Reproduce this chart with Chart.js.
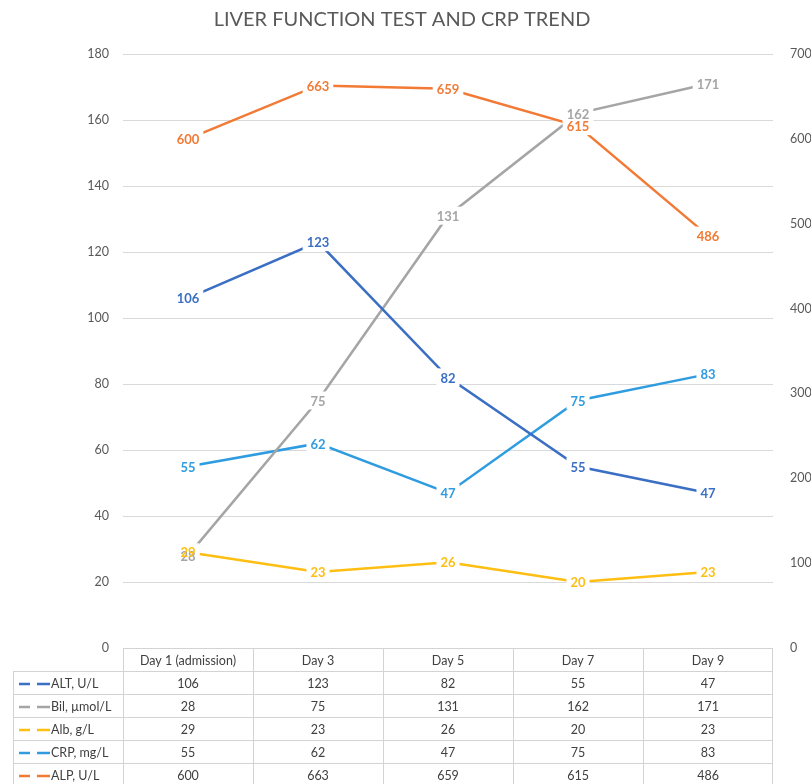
<!DOCTYPE html>
<html>
<head>
<meta charset="utf-8">
<script src="https://cdn.jsdelivr.net/npm/chart.js@4"></script>
<style>
  html, body { margin: 0; padding: 0; background: #fff; }
  #wrap { width: 811px; height: 784px; }
</style>
</head>
<body>
<div id="wrap"><canvas id="trend" width="811" height="784"></canvas></div>
<script>
// Categories (table header)
const days = ["Day 1 (admission)", "Day 3", "Day 5", "Day 7", "Day 9"];

// Series values
const altValues = [106, 123, 82, 55, 47];
const bilValues = [28, 75, 131, 162, 171];
const albValues = [29, 23, 26, 20, 23];
const crpValues = [55, 62, 47, 75, 83];
const alpValues = [600, 663, 659, 615, 486];

// Series names as shown in the data table
const seriesNames = ["ALT, U/L", "Bil, \u00b5mol/L", "Alb, g/L", "CRP, mg/L", "ALP, U/L"];

// Axis ranges
const leftAxis = { min: 0, max: 180, step: 20 };
const rightAxis = { min: 0, max: 700, step: 100 };

const FONT = "Lato, 'Open Sans', sans-serif";
const textGray = "#595959";
const gridGray = "#d9d9d9";

const seriesColors = ["#3b6fc3", "#a5a5a5", "#ffbe12", "#2f9ce0", "#f27a35"];

function makeSeries(label, values, color, axis) {
  return {
    label: label,
    data: values,
    borderColor: color,
    backgroundColor: color,
    borderWidth: 2.5,
    pointRadius: 0,
    tension: 0,
    yAxisID: axis,
  };
}

// Data labels: white boxes first, then text so overlapping labels both show
const dataLabels = {
  id: "dataLabels",
  afterDatasetsDraw(chart) {
    const { ctx } = chart;
    ctx.save();
    ctx.font = "bold 13px " + FONT;
    ctx.textAlign = "center";
    ctx.textBaseline = "middle";
    const items = [];
    chart.data.datasets.forEach((ds, i) => {
      chart.getDatasetMeta(i).data.forEach((pt, j) => {
        items.push({ x: pt.x, y: pt.y, text: String(ds.data[j]), color: ds.borderColor });
      });
    });
    ctx.fillStyle = "#ffffff";
    items.forEach((it) => {
      const w = ctx.measureText(it.text).width + 8;
      ctx.fillRect(it.x - w / 2, it.y - 9, w, 18);
    });
    items.forEach((it) => {
      ctx.fillStyle = it.color;
      ctx.fillText(it.text, it.x, it.y + 1);
    });
    ctx.restore();
  },
};

// Title and the data table under the plot
const titleAndTable = {
  id: "titleAndTable",
  afterDraw(chart) {
    const { ctx, chartArea, scales } = chart;
    const x = scales.x;
    ctx.save();
    // title
    ctx.font = "20px " + FONT;
    ctx.fillStyle = textGray;
    ctx.textAlign = "center";
    ctx.textBaseline = "middle";
    ctx.fillText("LIVER FUNCTION TEST AND CRP TREND", 402, 20);

    // table geometry
    const half = (x.getPixelForValue(1) - x.getPixelForValue(0)) / 2;
    const top = chartArea.bottom;
    const headH = 23;
    const rowH = 23;
    const legLeft = 13;
    const colLeft = chartArea.left;
    const colRight = chartArea.right;
    const bottom = top + headH + rowH * seriesNames.length;

    ctx.strokeStyle = "#d3d3d3";
    ctx.lineWidth = 1;
    ctx.beginPath();
    ctx.moveTo(colLeft, top + 0.5);
    ctx.lineTo(colRight, top + 0.5);
    for (let r = 0; r <= seriesNames.length; r++) {
      const yy = Math.round(top + headH + r * rowH) + 0.5;
      ctx.moveTo(legLeft, yy);
      ctx.lineTo(colRight, yy);
    }
    ctx.moveTo(legLeft + 0.5, top + headH);
    ctx.lineTo(legLeft + 0.5, bottom);
    days.forEach((d, i) => {
      const xx = Math.round(x.getPixelForValue(i) - half) + 0.5;
      ctx.moveTo(xx, top);
      ctx.lineTo(xx, bottom);
    });
    ctx.moveTo(colRight - 0.5, top);
    ctx.lineTo(colRight - 0.5, bottom);
    ctx.stroke();

    ctx.font = "12.5px " + FONT;
    ctx.fillStyle = "#404040";
    ctx.textAlign = "center";
    days.forEach((d, i) => {
      ctx.fillText(d, x.getPixelForValue(i), top + headH / 2 + 1);
    });
    chart.data.datasets.forEach((ds, r) => {
      const yy = top + headH + r * rowH + rowH / 2 + 1.5;
      ds.data.forEach((v, i) => {
        ctx.fillStyle = "#404040";
        ctx.textAlign = "center";
        ctx.fillText(String(v), x.getPixelForValue(i), yy);
      });
      // legend key: two short dashes
      ctx.strokeStyle = ds.borderColor;
      ctx.lineWidth = 2.5;
      ctx.beginPath();
      ctx.moveTo(19, yy);
      ctx.lineTo(30, yy);
      ctx.moveTo(37, yy);
      ctx.lineTo(50, yy);
      ctx.stroke();
      ctx.fillStyle = "#404040";
      ctx.textAlign = "left";
      ctx.fillText(seriesNames[r], 51, yy);
    });
    ctx.restore();
  },
};

const config = {
  type: "line",
  data: {
    labels: days,
    datasets: [
      makeSeries(seriesNames[0], altValues, seriesColors[0], "y"),
      makeSeries(seriesNames[1], bilValues, seriesColors[1], "y"),
      makeSeries(seriesNames[2], albValues, seriesColors[2], "y"),
      makeSeries(seriesNames[3], crpValues, seriesColors[3], "y"),
      makeSeries(seriesNames[4], alpValues, seriesColors[4], "y1"),
    ],
  },
  options: {
    responsive: false,
    animation: false,
    layout: { padding: { top: 54, bottom: 136, left: 0, right: 0 } },
    plugins: {
      legend: { display: false },
      title: { display: false },
      tooltip: { enabled: false },
    },
    scales: {
      x: {
        display: false,
        offset: true,
      },
      y: {
        position: "left",
        min: leftAxis.min,
        max: leftAxis.max,
        ticks: { stepSize: leftAxis.step, color: textGray, font: { family: FONT, size: 12.5 }, padding: 14 },
        grid: { color: gridGray, lineWidth: 1, drawTicks: false },
        border: { display: false },
        afterFit(scale) { scale.width = 123; },
      },
      y1: {
        position: "right",
        min: rightAxis.min,
        max: rightAxis.max,
        ticks: { stepSize: rightAxis.step, color: textGray, font: { family: FONT, size: 12.5 }, padding: 17 },
        grid: { drawOnChartArea: false, drawTicks: false },
        border: { display: false },
        afterFit(scale) { scale.width = 38; },
      },
    },
  },
  plugins: [dataLabels, titleAndTable],
};

const ctx = document.getElementById("trend").getContext("2d");
const trendChart = new Chart(ctx, config);
</script>
</body>
</html>
